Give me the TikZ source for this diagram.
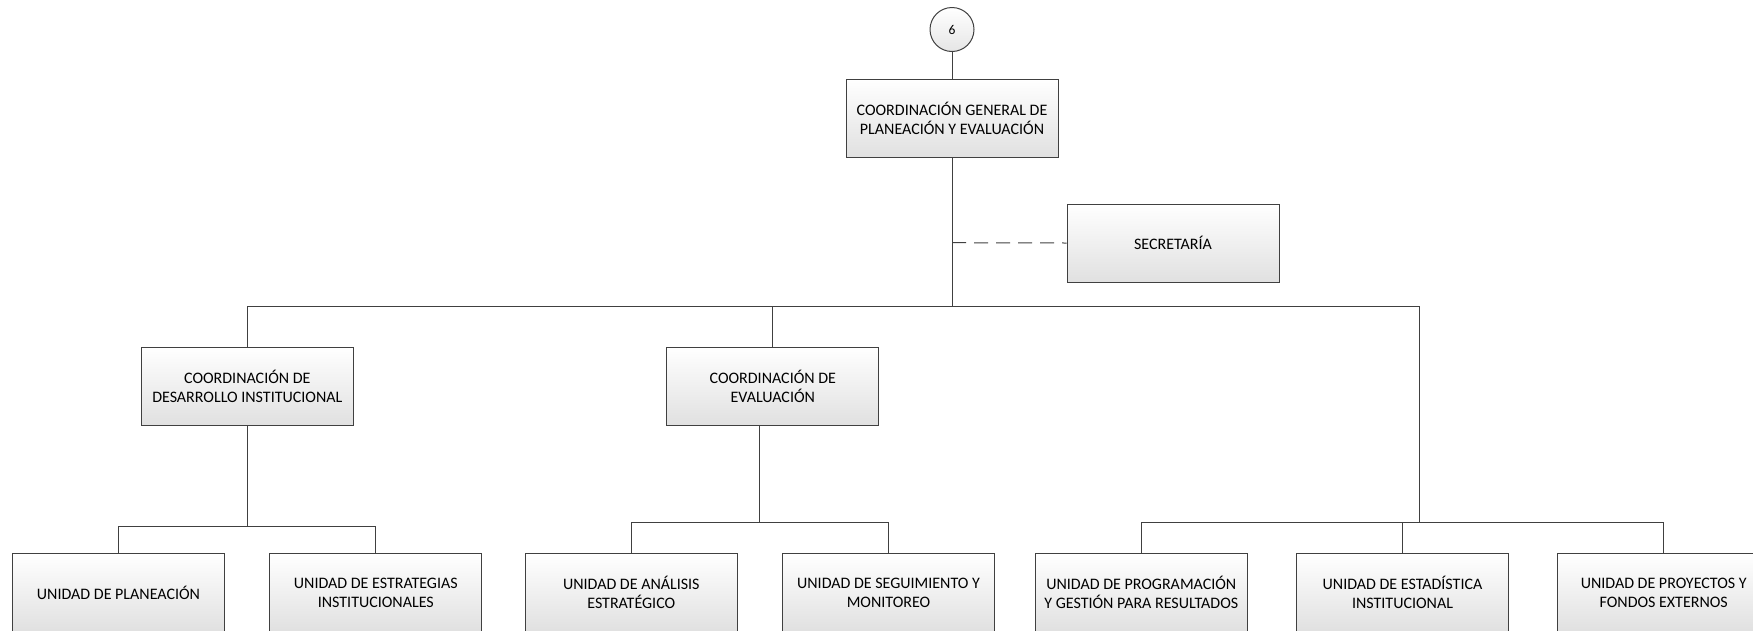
\documentclass[tikz,border=0pt]{standalone}
\usepackage{fontspec}
\setmainfont{Carlito}
\begin{document}
\begin{tikzpicture}[x=1pt,y=-1pt,
  box/.style={draw=black!75, line width=1pt, top color=white, bottom color=black!12,
    minimum width=212pt, minimum height=78pt, inner sep=0pt, align=center,
    font=\fontsize{16}{19}\selectfont},
  circ/.style={draw=black!75, line width=1pt, circle, top color=white, bottom color=black!10,
    minimum size=44pt, inner sep=0pt, font=\fontsize{13.5}{15}\selectfont},
  link/.style={draw=black!75, line width=1pt},
  dlink/.style={link, dash pattern=on 14pt off 8pt}]
\useasboundingbox (0,0) rectangle (1753,630);
\clip (0,0) rectangle (1753,630);
% nodes
\node[circ] (c6) at (952,29.5) {6};
\node[box] (cg) at (952,118) {COORDINACIÓN GENERAL DE\\PLANEACIÓN Y EVALUACIÓN};
\node[box] (sec) at (1173,243) {SECRETARÍA};
\node[box] (cdi) at (247.3,386.2) {COORDINACIÓN DE\\DESARROLLO INSTITUCIONAL};
\node[box] (cev) at (772.8,386.2) {COORDINACIÓN DE\\EVALUACIÓN};
\node[box] (up) at (118.5,592.5) {UNIDAD DE PLANEACIÓN};
\node[box] (ue) at (375.8,592.5) {UNIDAD DE ESTRATEGIAS\\INSTITUCIONALES};
\node[box] (ua) at (631.3,592.5) {UNIDAD DE ANÁLISIS\\ESTRATÉGICO};
\node[box] (us) at (888.5,592.5) {UNIDAD DE SEGUIMIENTO Y\\MONITOREO};
\node[box] (upg) at (1141.3,592.5) {UNIDAD DE PROGRAMACIÓN\\Y GESTIÓN PARA RESULTADOS};
\node[box] (uest) at (1402.5,592.5) {UNIDAD DE ESTADÍSTICA\\INSTITUCIONAL};
\node[box] (upf) at (1663.7,592.5) {UNIDAD DE PROYECTOS Y\\FONDOS EXTERNOS};
% junction coordinates
\coordinate (bus) at (952,306);
\coordinate (dj) at (952,242.7);
\coordinate (bl) at (247.3,306);
\coordinate (bm) at (772.8,306);
\coordinate (br) at (1419.3,306);
\coordinate (sl) at (247.3,526);
\coordinate (cevb) at (759.7,425.7);
\coordinate (sm) at (759.7,522.7);
\coordinate (sr) at (1419.3,522.3);
% connectors
\draw[link] (c6) -- (cg);
\draw[link] (cg) -- (bus);
\draw[dlink] (dj) -- (sec.west);
\draw[link] (cdi.north) -- (bl) -- (br) -- (sr);
\draw[link] (bm) -- (cev.north);
% left branch
\draw[link] (cdi.south) -- (sl);
\draw[link] (up.north) |- (sl) -| (ue.north);
% middle branch
\draw[link] (cevb) -- (sm);
\draw[link] (ua.north) |- (sm) -| (us.north);
% right branch
\draw[link] (upg.north) |- (sr) -| (upf.north);
\draw[link] (uest.north) -- (uest.north |- sr);
\end{tikzpicture}
\end{document}
